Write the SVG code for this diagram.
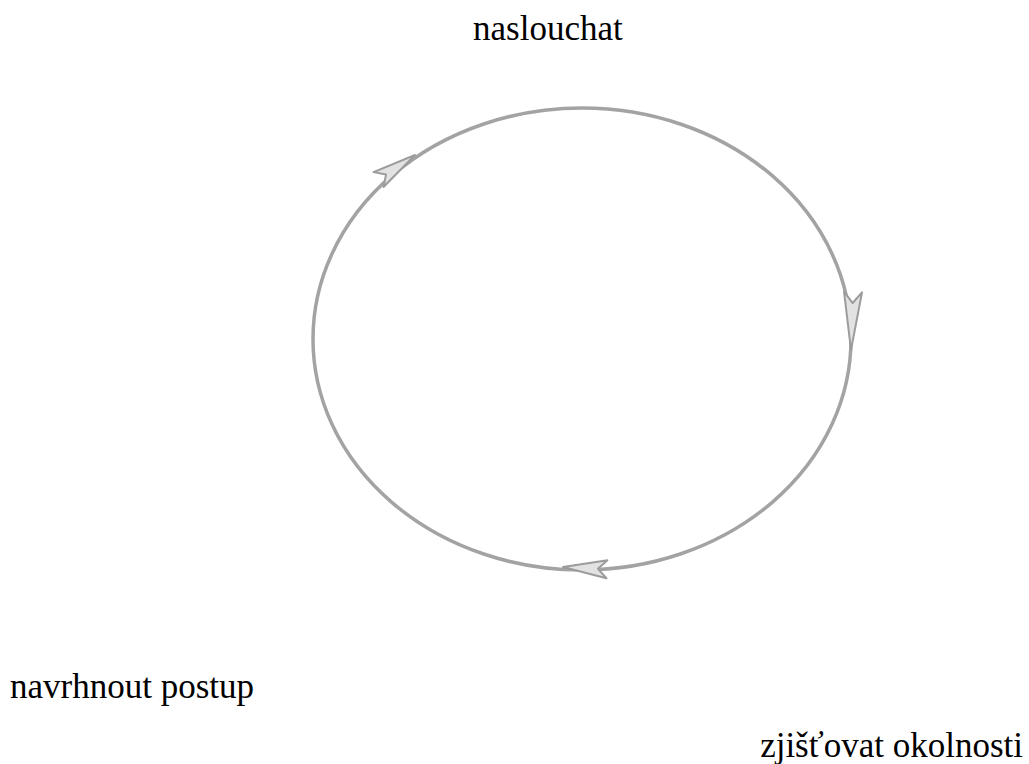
<svg xmlns="http://www.w3.org/2000/svg" width="1029" height="764" viewBox="0 0 1029 764">
<style>
.lbl{font-family:"Liberation Serif","Times New Roman",serif;font-size:35px;fill:#000}
.ring{fill:none;stroke:#a3a3a3;stroke-width:3.5}
.head{fill:#e2e2e2;stroke:#9c9c9c;stroke-width:2;stroke-linejoin:round}
</style>
<defs>
<path id="ah" d="M0,0 L-44,-9 L-35,0 L-44,9 Z"/>
<path id="ahl" d="M0,0 L-58,-9 L-47,0 L-58,9 Z"/>
</defs>
<rect width="1029" height="764" fill="#fff"/>
<g id="connectors">
<ellipse class="ring" cx="582" cy="339" rx="269" ry="231"/>
<use href="#ah" class="head" transform="translate(415,155) rotate(-34)"/>
<use href="#ahl" class="head" transform="translate(851,350) rotate(92)"/>
<use href="#ah" class="head" transform="translate(563,567) rotate(183)"/>
</g>
<g id="node-naslouchat"><text class="lbl" x="473" y="40">naslouchat</text></g>
<g id="node-navrhnout"><text class="lbl" x="10" y="698">navrhnout postup</text></g>
<g id="node-zjistovat"><text class="lbl" x="1023" y="757" text-anchor="end">zjišťovat okolnosti</text></g>
</svg>
